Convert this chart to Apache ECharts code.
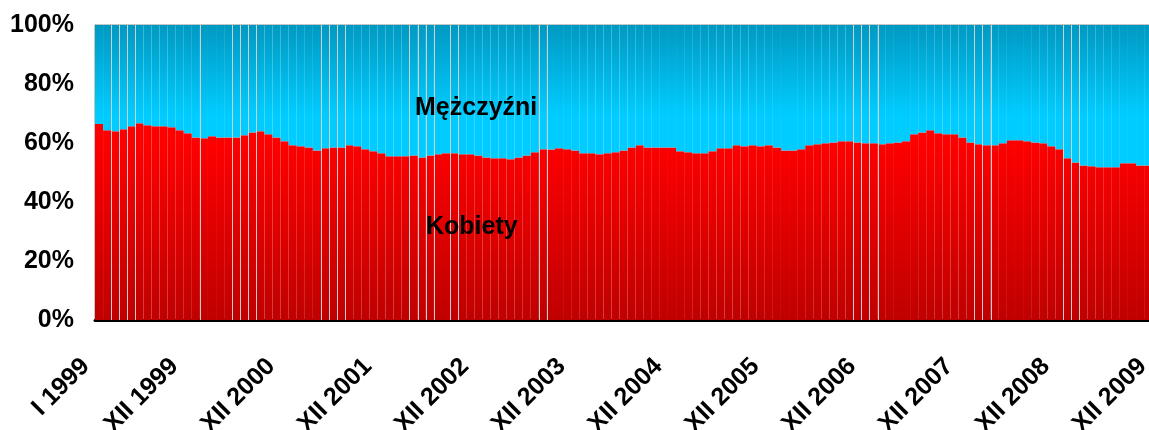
<!DOCTYPE html>
<html>
<head>
<meta charset="utf-8">
<script src="https://cdn.jsdelivr.net/npm/echarts@6/dist/echarts.min.js"></script>
<style>
  html, body { margin: 0; padding: 0; background: #fff; }
  #chart { width: 1149px; height: 430px; }
</style>
</head>
<body>
<div id="chart"></div>
<script>
  // miesiace / lata
  var months = ['I', 'II', 'III', 'IV', 'V', 'VI', 'VII', 'VIII', 'IX', 'X', 'XI', 'XII']
  var years = [1999, 2000, 2001, 2002, 2003, 2004, 2005, 2006, 2007, 2008, 2009]

  var kobiety = [
    66.4, 64.3, 64.0, 64.7, 65.7, 66.7, 66.0, 65.7, 65.7, 65.3, 64.3, 63.3,
    61.9, 61.6, 62.3, 61.9, 61.9, 61.9, 62.6, 63.6, 64.0, 63.0, 61.9, 60.6,
    59.2, 58.9, 58.5, 57.5, 58.2, 58.5, 58.5, 59.2, 58.9, 57.9, 57.2, 56.5,
    55.5, 55.5, 55.5, 55.8, 55.1, 55.8, 56.2, 56.5, 56.5, 56.2, 56.2, 55.8,
    55.1, 54.8, 54.8, 54.5, 55.1, 55.8, 56.9, 57.9, 57.8, 58.2, 57.9, 57.5,
    56.5, 56.5, 56.2, 56.5, 56.9, 57.5, 58.5, 59.2, 58.5, 58.5, 58.5, 58.5,
    57.2, 56.9, 56.5, 56.5, 57.2, 58.2, 58.2, 59.2, 58.9, 59.2, 58.9, 59.2,
    58.5, 57.5, 57.5, 57.9, 59.2, 59.6, 59.9, 60.2, 60.6, 60.6, 60.2, 59.9,
    59.9, 59.6, 59.9, 60.2, 60.6, 63.0, 63.6, 64.3, 63.3, 63.0, 63.0, 61.9,
    60.2, 59.6, 59.2, 59.2, 59.9, 60.9, 60.9, 60.6, 60.2, 59.9, 58.9, 57.9,
    54.8, 53.4, 52.4, 52.1, 51.8, 51.8, 51.8, 53.1, 53.1, 52.4, 52.4, 52.4
  ]
  // udzial mezczyzn = reszta do 100%
  var mezczyzni = kobiety.map(function (v) { return +(100 - v).toFixed(1) })

  // jasne pionowe przerwy miedzy slupkami (indeks granicy)
  var gapLines = [2, 3, 4, 5, 13, 17, 18, 19, 20, 28, 29, 30, 31, 39, 40, 41, 42, 44, 45, 55, 56,
    94, 95, 96, 97, 109, 110, 111, 120, 121, 122]

  var yTicks = [0, 20, 40, 60, 80, 100]

  var categories = []
  for (var y = 0; y < years.length; y++) {
    for (var m = 0; m < months.length; m++) categories.push(months[m] + ' ' + years[y])
  }

  var font = '"Liberation Sans", Arial, sans-serif'
  var chart = echarts.init(document.getElementById('chart'), null, {renderer: 'canvas'})

  var option = {
    animation: false,
    grid: {
      left: 95,
      top: 25,
      bottom: 110,
      width: categories.length * 8.07,
      containLabel: false,
      outerBoundsMode: 'none',
      show: true,
      borderColor: '#8c8c8c',
      borderWidth: 1,
      backgroundColor: 'transparent'
    },
    xAxis: [{
      type: 'category',
      data: categories,
      boundaryGap: true,
      axisLine: {show: true, lineStyle: {color: '#000', width: 3}},
      axisTick: {show: false},
      axisLabel: {
        interval: function (idx) { return idx === 0 || idx % 12 === 11 },
        rotate: 45,
        margin: 29,
        padding: [0, 19, 0, 0],
        color: '#000',
        fontFamily: font,
        fontWeight: 'bold',
        fontSize: 25
      },
      splitLine: {show: false}
    }, {
      type: 'value',
      min: 0,
      max: categories.length,
      show: false
    }],
    yAxis: {
      type: 'value',
      min: yTicks[0],
      max: yTicks[yTicks.length - 1],
      interval: 20,
      axisLine: {show: true, lineStyle: {color: '#8c8c8c', width: 1}},
      axisTick: {show: false},
      splitLine: {show: false},
      axisLabel: {
        formatter: '{value}%',
        margin: 21,
        color: '#000',
        fontFamily: font,
        fontWeight: 'bold',
        fontSize: 25
      }
    },
    series: [{
      name: 'Kobiety',
      type: 'bar',
      stack: 'razem',
      barCategoryGap: '0%',
      barGap: '0%',
      data: kobiety,
      itemStyle: {
        color: {
          type: 'linear', global: true, x: 0, y: 140, x2: 0, y2: 320,
          colorStops: [{offset: 0, color: '#ff0000'}, {offset: 1, color: '#bf0000'}]
        }
      }
    }, {
      name: 'Mężczyźni',
      type: 'bar',
      stack: 'razem',
      data: mezczyzni,
      itemStyle: {
        color: {
          type: 'linear', global: true, x: 0, y: 25, x2: 0, y2: 115,
          colorStops: [{offset: 0, color: '#0099c2'}, {offset: 1, color: '#00ccff'}]
        }
      }
    }, {
      // przerwy
      type: 'line',
      xAxisIndex: 1,
      data: [],
      silent: true,
      z: 5,
      markLine: {
        silent: true,
        symbol: 'none',
        animation: false,
        label: {show: false},
        lineStyle: {color: '#cfcfcf', width: 1, type: 'solid'},
        data: gapLines.map(function (g) { return {xAxis: g} })
      }
    }],
    graphic: [{
      type: 'text',
      left: 415,
      top: 96,
      z: 100,
      style: {text: 'Mężczyźni', font: 'bold 25px ' + font, fill: '#000'}
    }, {
      type: 'text',
      left: 426,
      top: 215,
      z: 100,
      style: {text: 'Kobiety', font: 'bold 25px ' + font, fill: '#000'}
    }]
  }

  chart.setOption(option)
</script>
</body>
</html>
